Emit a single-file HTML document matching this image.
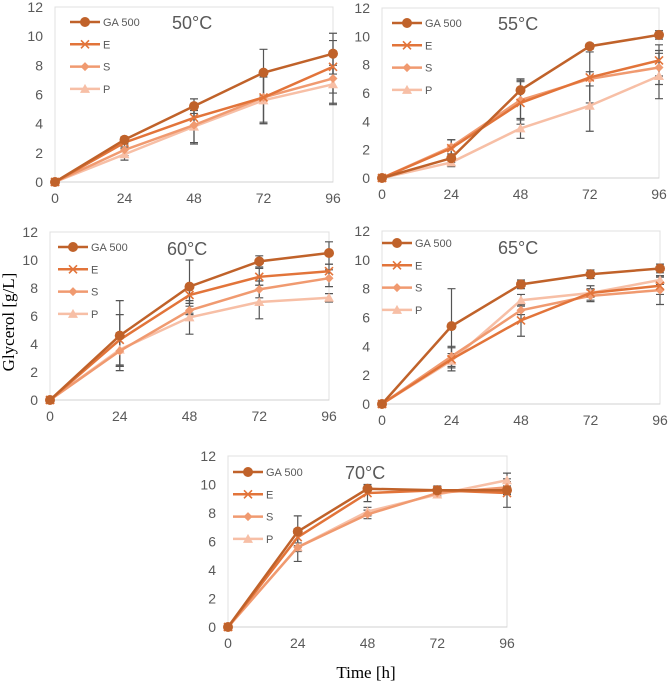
<!DOCTYPE html>
<html><head><meta charset="utf-8"><style>
body{margin:0;background:#fff;}
svg{display:block;font-family:"Liberation Sans",sans-serif;}
</style></head><body>
<svg id="chart" width="669" height="689" viewBox="0 0 669 689" xmlns="http://www.w3.org/2000/svg">
<text x="0" y="0" transform="translate(14,322) rotate(-90)" text-anchor="middle" font-family="Liberation Serif,serif" font-size="17" fill="#000">Glycerol [g/L]</text>
<text x="366" y="678" text-anchor="middle" font-family="Liberation Serif,serif" font-size="17" fill="#000">Time [h]</text>
</svg>
<script>
const times=[0,24,48,72,96];
const yTicks=[0,2,4,6,8,10,12];
const seriesNames=["GA 500","E","S","P"];
const titles=["50°C","55°C","60°C","65°C","70°C"];
const v50GA=[0,2.9,5.2,7.5,8.8], v50E=[0,2.7,4.4,5.8,7.9], v50S=[0,2.2,3.9,5.8,7.1], v50P=[0,1.9,3.8,5.6,6.7];
const e50GA=[0,0.2,0.5,1.6,1.4], e50E=[0,0.3,0.5,1.8,1.8], e50S=[0,0.4,1.2,1.7,1.8], e50P=[0,0.4,1.2,1.6,1.3];
const v55GA=[0,1.4,6.2,9.3,10.1], v55E=[0,2.1,5.3,7.1,8.3], v55S=[0,2.2,5.5,7.0,7.8], v55P=[0,1.1,3.5,5.1,7.2];
const e55GA=[0,0.3,0.8,0.2,0.3], e55E=[0,0.6,1.5,1.8,1.1], e55S=[0,0.5,1.4,0.5,1.2], e55P=[0,0.3,0.7,1.8,1.6];
const v60GA=[0,4.6,8.1,9.9,10.5], v60E=[0,4.3,7.5,8.8,9.2], v60S=[0,3.5,6.4,7.9,8.7], v60P=[0,3.6,5.9,7.0,7.3];
const e60GA=[0,2.5,1.9,0.4,0.8], e60E=[0,1.8,0.6,0.6,0.5], e60S=[0,1.1,0.3,0.6,0.6], e60P=[0,1.2,1.2,1.2,0.3];
const v65GA=[0,5.4,8.3,9.0,9.4], v65E=[0,3.1,5.8,7.7,8.2], v65S=[0,3.3,6.5,7.5,7.9], v65P=[0,3.0,7.2,7.7,8.6];
const e65GA=[0,2.6,0.3,0.3,0.3], e65E=[0,0.8,1.1,0.5,0.6], e65S=[0,0.7,0.3,0.4,1.0], e65P=[0,0.5,0.4,0.3,0.3];
const v70GA=[0,6.7,9.7,9.6,9.6], v70E=[0,6.3,9.4,9.6,9.4], v70S=[0,5.6,7.9,9.4,9.8], v70P=[0,5.6,8.1,9.3,10.3];
const e70GA=[0,1.1,0.2,0.2,0.3], e70E=[0,0.6,0.6,0.3,1.0], e70S=[0,1.0,0.3,0.2,0.4], e70P=[0,0.3,0.3,0.2,0.5];
const panelVals=[[v50GA,v50E,v50S,v50P],[v55GA,v55E,v55S,v55P],[v60GA,v60E,v60S,v60P],[v65GA,v65E,v65S,v65P],[v70GA,v70E,v70S,v70P]];
const panelErrs=[[e50GA,e50E,e50S,e50P],[e55GA,e55E,e55S,e55P],[e60GA,e60E,e60S,e60P],[e65GA,e65E,e65S,e65P],[e70GA,e70E,e70S,e70P]];
const colors=["#c0622a","#e2743a","#f09a70","#f7bfa6"];
const geom=[
 {x0:55,x1:333,y0:182,y1:7,lx:70,ly:22,tx:172,ty:22,bid:"50"},
 {x0:382,x1:659,y0:178,y1:8,lx:392,ly:23,tx:498,ty:23,bid:"55"},
 {x0:50,x1:329,y0:400,y1:232,lx:58,ly:247,tx:167,ty:248,bid:"60"},
 {x0:382,x1:660,y0:404,y1:231,lx:382,ly:243,tx:498,ty:247,bid:"65"},
 {x0:228,x1:507,y0:627,y1:456,lx:233,ly:472,tx:345,ty:472,bid:"70"}
];
const NS="http://www.w3.org/2000/svg";
const svg=document.getElementById("chart");
function mk(tag,attrs,parent){const e=document.createElementNS(NS,tag);for(const k in attrs)e.setAttribute(k,attrs[k]);(parent||svg).appendChild(e);return e;}
function marker(g,i,x,y,c){
 if(i===0)mk("circle",{cx:x,cy:y,r:5,fill:c},g);
 else if(i===1){mk("path",{d:`M${x-4},${y-4}L${x+4},${y+4}M${x-4},${y+4}L${x+4},${y-4}`,stroke:c,"stroke-width":1.6,fill:"none"},g);}
 else if(i===2)mk("path",{d:`M${x},${y-4.5}L${x+4.5},${y}L${x},${y+4.5}L${x-4.5},${y}Z`,fill:c},g);
 else mk("path",{d:`M${x},${y-5}L${x+5},${y+4}L${x-5},${y+4}Z`,fill:c},g);
}
geom.forEach((G,p)=>{
 const g=mk("g",{});
 
 
 const X=t=>G.x0+(t/96)*(G.x1-G.x0);
 const Y=v=>G.y0-(v/12)*(G.y0-G.y1);
 const fr=mk("rect",{x:G.x0,y:G.y1,width:G.x1-G.x0,height:G.y0-G.y1,fill:"none",stroke:"#e0e0e0","stroke-width":1},g);
 
 
 mk("line",{x1:G.x0,y1:G.y0,x2:G.x1,y2:G.y0,stroke:"#d0d0d0"},g);
 yTicks.forEach(t=>{const tx=mk("text",{x:G.x0-12,y:Y(t)+5,"text-anchor":"end","font-size":14,fill:"#595959"},g);tx.textContent=t;
  
  });
 times.forEach(t=>{const tx=mk("text",{x:X(t),y:G.y0+21,"text-anchor":"middle","font-size":14,fill:"#595959"},g);tx.textContent=t;
  
  });
 const title=mk("text",{x:G.tx,y:G.ty+7,"font-size":18,fill:"#595959"},g);title.textContent=titles[p];
 
 
 panelVals[p].forEach((vals,i)=>{
  vals.forEach((v,k)=>{const e=panelErrs[p][i][k];if(!e)return;
   const x=X(times[k]);
   const eb=mk("path",{d:`M${x},${Y(v-e)}L${x},${Y(v+e)}M${x-4},${Y(v-e)}L${x+4},${Y(v-e)}M${x-4},${Y(v+e)}L${x+4},${Y(v+e)}`,stroke:"#555","stroke-width":1.2,fill:"none"},g);
   
   
  });
 });
 for(let i=3;i>=0;i--){
  const vals=panelVals[p][i];
  const sg=mk("g",{},g);
  
  
  mk("polyline",{points:vals.map((v,k)=>X(times[k])+","+Y(v)).join(" "),fill:"none",stroke:colors[i],"stroke-width":2.5},sg);
  vals.forEach((v,k)=>marker(sg,i,X(times[k]),Y(v),colors[i]));
 }
 seriesNames.forEach((n,i)=>{
  const ly=G.ly+i*22.3;
  const lg=mk("g",{},g);
  
  
  mk("line",{x1:G.lx,y1:ly,x2:G.lx+30,y2:ly,stroke:colors[i],"stroke-width":2.5},lg);
  marker(lg,i,G.lx+15,ly,colors[i]);
  const t=mk("text",{x:G.lx+33,y:ly+4,"font-size":11,fill:"#595959"},lg);t.textContent=n;
 });
});
</script>
</body></html>
